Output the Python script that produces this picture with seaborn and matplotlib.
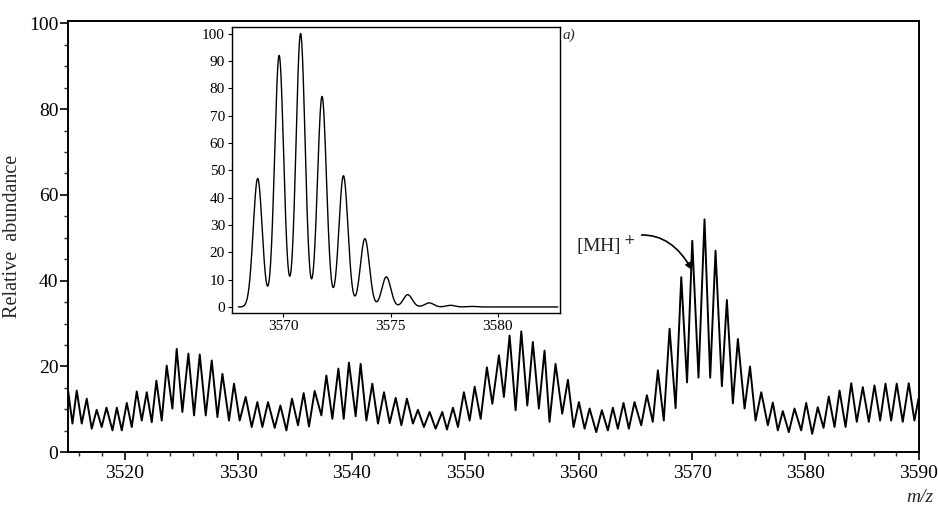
import numpy as np
import pandas as pd
import matplotlib
matplotlib.use("Agg")
import matplotlib.pyplot as plt
from matplotlib.ticker import MultipleLocator
import seaborn as sns

# espectro principal: m/z y abundancia (maximos y minimos alternados)
mz = [3515.00, 3515.39, 3515.77, 3516.21, 3516.65, 3517.09, 3517.53, 3517.97, 3518.39, 3518.92,
      3519.30, 3519.74, 3520.18, 3520.62, 3521.06, 3521.50, 3521.94, 3522.38, 3522.79, 3523.26,
      3523.70, 3524.20, 3524.58, 3525.08, 3525.61, 3526.11, 3526.61, 3527.14, 3527.67, 3528.17,
      3528.61, 3529.19, 3529.63, 3530.13, 3530.66, 3531.19, 3531.69, 3532.13, 3532.63, 3533.22,
      3533.72, 3534.25, 3534.74, 3535.27, 3535.77, 3536.24, 3536.74, 3537.33, 3537.77, 3538.30,
      3538.83, 3539.30, 3539.76, 3540.35, 3540.79, 3541.30, 3541.82, 3542.32, 3542.85, 3543.35,
      3543.88, 3544.38, 3544.87, 3545.40, 3545.84, 3546.37, 3546.87, 3547.40, 3547.99, 3548.40,
      3548.93, 3549.37, 3549.89, 3550.40, 3550.84, 3551.37, 3551.92, 3552.40, 3552.98, 3553.42,
      3553.92, 3554.45, 3554.95, 3555.48, 3555.97, 3556.50, 3557.00, 3557.44, 3557.97, 3558.56,
      3559.06, 3559.56, 3560.03, 3560.53, 3560.97, 3561.56, 3562.05, 3562.58, 3563.02, 3563.46,
      3563.96, 3564.43, 3564.93, 3565.52, 3566.02, 3566.54, 3566.99, 3567.51, 3568.02, 3568.55,
      3569.05, 3569.56, 3570.02, 3570.57, 3571.10, 3571.60, 3572.07, 3572.63, 3573.07, 3573.60,
      3574.04, 3574.63, 3575.11, 3575.60, 3576.10, 3576.68, 3577.12, 3577.56, 3578.00, 3578.53,
      3579.03, 3579.62, 3580.06, 3580.59, 3581.08, 3581.59, 3582.05, 3582.56, 3583.00, 3583.53,
      3584.03, 3584.52, 3585.05, 3585.58, 3586.08, 3586.58, 3587.05, 3587.55, 3588.04, 3588.57,
      3589.10, 3589.60, 3589.96]
abund = [14.5, 6.7, 14.4, 6.7, 12.5, 5.5, 9.9, 5.9, 10.4, 5.1,
         10.4, 5.1, 11.5, 5.9, 14.2, 7.4, 14.0, 7.0, 16.7, 7.4,
         20.2, 10.2, 24.1, 9.4, 23.0, 8.6, 22.8, 8.6, 21.4, 8.2,
         18.3, 7.4, 16.0, 7.4, 12.9, 5.9, 11.7, 5.9, 11.7, 5.7,
         10.9, 5.1, 12.5, 6.3, 13.8, 6.0, 14.3, 8.6, 17.9, 7.8,
         19.5, 7.8, 20.9, 8.4, 20.6, 7.4, 16.0, 6.7, 14.0, 6.8,
         12.7, 6.3, 12.5, 6.7, 9.9, 5.9, 9.4, 5.5, 9.4, 5.3,
         10.4, 5.9, 14.0, 7.4, 15.3, 7.8, 19.8, 11.3, 22.6, 12.9,
         27.2, 9.8, 28.2, 10.9, 25.7, 10.2, 23.7, 7.1, 20.6, 9.0,
         16.9, 5.9, 11.7, 5.5, 10.2, 4.7, 9.8, 5.1, 10.4, 5.5,
         11.5, 5.5, 11.7, 6.3, 13.3, 7.1, 19.1, 7.4, 28.8, 10.3,
         40.8, 16.3, 49.3, 17.4, 54.3, 17.4, 47.0, 15.4, 35.5, 11.4,
         26.4, 10.2, 20.0, 7.4, 14.0, 6.3, 11.6, 5.1, 9.6, 4.7,
         10.2, 5.1, 11.5, 4.3, 10.5, 5.7, 13.0, 5.9, 14.4, 5.9,
         16.1, 7.1, 15.2, 7.1, 15.6, 7.4, 16.0, 7.4, 16.0, 7.1,
         16.1, 7.4, 12.5]

# patron isotopico calculado (recuadro a)
iso_mz = [3568.8, 3569.8, 3570.8, 3571.8, 3572.8, 3573.8, 3574.8, 3575.8, 3576.8, 3577.8, 3578.8]
iso_int = [47, 92, 100, 77, 48, 25, 11, 4.5, 1.5, 0.6, 0.2]
iso_sigma = 0.21

df = pd.DataFrame({"mz": mz, "abund": abund})

# perfil del patron isotopico con picos gaussianos
grid = np.linspace(3567.9, 3582.8, 2000)
perfil = np.zeros_like(grid)
for c, h in zip(iso_mz, iso_int):
    perfil += h * np.exp(-(grid - c) ** 2 / (2 * iso_sigma ** 2))
df_iso = pd.DataFrame({"mz": grid, "int": perfil})

sns.set_theme(style="ticks")
plt.rcParams["font.family"] = ["Liberation Serif", "DejaVu Serif"]

fig = plt.figure(figsize=(9.38, 5.09), dpi=100)

# grafico principal
ax = fig.add_axes([0.0725, 0.1114, 0.9072, 0.848])
sns.lineplot(data=df, x="mz", y="abund", ax=ax, color="black", linewidth=1.4,
             estimator=None, sort=False)
ax.set_xlim(3515, 3590)
ax.set_ylim(0, 100.6)
ax.xaxis.set_major_locator(MultipleLocator(10))
ax.xaxis.set_minor_locator(MultipleLocator(2))
ax.yaxis.set_major_locator(MultipleLocator(20))
ax.yaxis.set_minor_locator(MultipleLocator(5))
ax.tick_params(which="major", direction="out", length=6, width=1.2, labelsize=14, pad=3, colors="black")
ax.tick_params(axis="y", which="major", pad=1)
ax.tick_params(which="minor", direction="out", length=3, width=1.0)
for s in ax.spines.values():
    s.set_linewidth(1.4)
    s.set_color("black")
ax.set_xlabel("")
ax.set_ylabel("Relative  abundance", fontsize=14.5, labelpad=5)

# anotacion [MH]+
ax.annotate("[MH]$^+$", xy=(3570.0, 42.5), xytext=(3559.8, 48.0),
            fontsize=14, va="center", ha="left",
            arrowprops=dict(arrowstyle="-|>", color="black", lw=1.2,
                            connectionstyle="arc3,rad=-0.5", shrinkA=2, shrinkB=0,
                            mutation_scale=10))

# recuadro con el patron calculado
ax2 = fig.add_axes([0.2473, 0.3851, 0.3497, 0.5619])
sns.lineplot(data=df_iso, x="mz", y="int", ax=ax2, color="black", linewidth=1.0,
             estimator=None, sort=False)
ax2.set_xlim(3567.6, 3582.9)
ax2.set_ylim(-2.2, 102.4)
ax2.set_xticks([3570, 3575, 3580])
ax2.set_yticks(range(0, 101, 10))
ax2.tick_params(direction="out", length=3, width=0.8, labelsize=11, pad=2, colors="black")
for s in ax2.spines.values():
    s.set_linewidth(1.0)
    s.set_color("black")
ax2.set_xlabel("")
ax2.set_ylabel("")

fig.text(0.600, 0.931, "a)", fontsize=11, style="italic", ha="left", va="center")
fig.text(0.966, 0.022, "m/z", fontsize=14, style="italic", ha="left", va="center")

plt.savefig("out.png", dpi=100)
